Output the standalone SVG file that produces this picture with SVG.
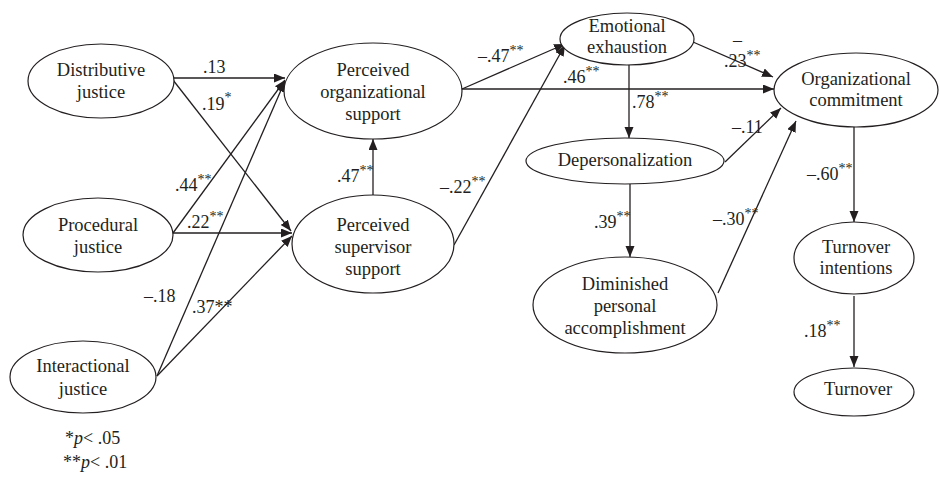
<svg xmlns="http://www.w3.org/2000/svg" width="939" height="479" viewBox="0 0 939 479">
<style>
text{font-family:"Liberation Serif","Times New Roman",serif;fill:#231f20}
.n{font-size:18.5px;text-anchor:middle}
.l{font-size:18px}
.s{font-size:14px}
ellipse{fill:#fff;stroke:#231f20;stroke-width:1.2}
#edges line{stroke:#231f20;stroke-width:1.3;marker-end:url(#ah)}
</style>
<defs>
<marker id="ah" markerUnits="userSpaceOnUse" markerWidth="12" markerHeight="10" refX="11" refY="4.5" orient="auto">
<path d="M0,0 L11,4.5 L0,9 Z" fill="#231f20"/>
</marker>
</defs>
<rect width="939" height="479" fill="#fff"/>
<g id="edges">
<line x1="173" y1="78" x2="285" y2="78"/>
<line x1="173" y1="80" x2="291" y2="231"/>
<line x1="173" y1="233" x2="285" y2="80"/>
<line x1="173" y1="233" x2="292" y2="233"/>
<line x1="157" y1="376" x2="285" y2="81"/>
<line x1="157" y1="376" x2="292" y2="236"/>
<line x1="373" y1="195" x2="373" y2="139"/>
<line x1="462" y1="89" x2="565" y2="44"/>
<line x1="454" y1="245" x2="565" y2="45"/>
<line x1="462" y1="89" x2="774" y2="89"/>
<line x1="693" y1="42" x2="773" y2="77"/>
<line x1="629" y1="65" x2="629" y2="138"/>
<line x1="725" y1="162" x2="781" y2="108"/>
<line x1="630" y1="184" x2="630" y2="257"/>
<line x1="718" y1="293" x2="796" y2="121"/>
<line x1="854" y1="127" x2="854" y2="222"/>
<line x1="854" y1="296" x2="854" y2="367"/>
</g>
<g id="distributive"><ellipse cx="101" cy="81" rx="73" ry="37"/><text class="n" x="101" y="76">Distributive</text><text class="n" x="101" y="98">justice</text></g>
<g id="procedural"><ellipse cx="98" cy="235" rx="75" ry="37"/><text class="n" x="98" y="231">Procedural</text><text class="n" x="98" y="253">justice</text></g>
<g id="interactional"><ellipse cx="83" cy="377" rx="73" ry="36"/><text class="n" x="83" y="372">Interactional</text><text class="n" x="83" y="395">justice</text></g>
<g id="pos"><ellipse cx="373" cy="91" rx="89" ry="48"/><text class="n" x="373" y="76">Perceived</text><text class="n" x="373" y="98">organizational</text><text class="n" x="373" y="120">support</text></g>
<g id="pss"><ellipse cx="373" cy="244" rx="81" ry="49"/><text class="n" x="373" y="231">Perceived</text><text class="n" x="373" y="253">supervisor</text><text class="n" x="373" y="275">support</text></g>
<g id="ee"><ellipse cx="627" cy="39" rx="67" ry="26"/><text class="n" x="627" y="32">Emotional</text><text class="n" x="627" y="53">exhaustion</text></g>
<g id="oc"><ellipse cx="856" cy="90" rx="82" ry="37"/><text class="n" x="856" y="85">Organizational</text><text class="n" x="856" y="106">commitment</text></g>
<g id="dep"><ellipse cx="625" cy="161" rx="99" ry="23"/><text class="n" x="625" y="166">Depersonalization</text></g>
<g id="dpa"><ellipse cx="625" cy="305" rx="92" ry="48"/><text class="n" x="625" y="290">Diminished</text><text class="n" x="625" y="312">personal</text><text class="n" x="625" y="334">accomplishment</text></g>
<g id="ti"><ellipse cx="854" cy="258" rx="60" ry="36"/><text class="n" x="856" y="253">Turnover</text><text class="n" x="856" y="274">intentions</text></g>
<g id="turnover"><ellipse cx="854" cy="392" rx="60" ry="24"/><text class="n" x="858" y="395">Turnover</text></g>
<g id="labels">
<text class="l" x="203" y="73">.13</text>
<text class="l" x="202" y="110">.19<tspan class="s" dy="-8">*</tspan></text>
<text class="l" x="175" y="191">.44<tspan class="s" dy="-7">**</tspan></text>
<text class="l" x="187" y="228">.22<tspan class="s" dy="-7">**</tspan></text>
<text class="l" x="144" y="302">–.18</text>
<text class="l" x="192" y="313">.37**</text>
<text class="l" x="337" y="182">.47<tspan class="s" dy="-7">**</tspan></text>
<text class="l" x="478" y="62">–.47<tspan class="s" dy="-7">**</tspan></text>
<text class="l" x="440" y="193">–.22<tspan class="s" dy="-7">**</tspan></text>
<text class="l" x="563" y="83">.46<tspan class="s" dy="-7">**</tspan></text>
<text class="l" x="632" y="108">.78<tspan class="s" dy="-7">**</tspan></text>
<text class="l" x="733" y="46">–</text>
<text class="l" x="724" y="67">.23<tspan class="s" dy="-7">**</tspan></text>
<text class="l" x="732" y="133">–.11</text>
<text class="l" x="807" y="180">–.60<tspan class="s" dy="-7">**</tspan></text>
<text class="l" x="594" y="228">.39<tspan class="s" dy="-7">**</tspan></text>
<text class="l" x="713" y="225">–.30<tspan class="s" dy="-7">**</tspan></text>
<text class="l" x="804" y="337">.18<tspan class="s" dy="-7">**</tspan></text>
<text class="l" x="65" y="444">*<tspan font-style="italic">p</tspan>&lt; .05</text>
<text class="l" x="63" y="468">**<tspan font-style="italic">p</tspan>&lt; .01</text>
</g>
</svg>
